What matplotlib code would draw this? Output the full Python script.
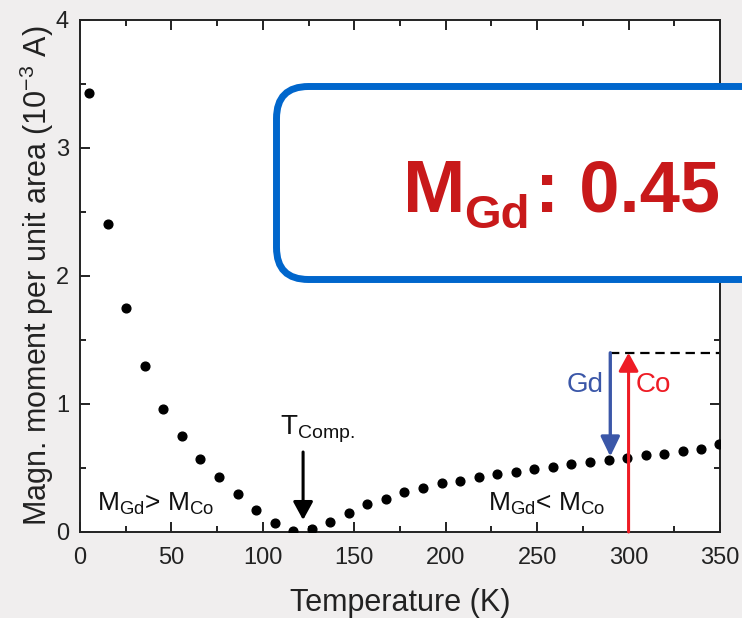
import matplotlib
matplotlib.use("Agg")
import matplotlib.pyplot as plt
from matplotlib.patches import FancyBboxPatch, FancyArrowPatch
from matplotlib.transforms import IdentityTransform
from matplotlib.ticker import MultipleLocator

plt.rcParams['font.family'] = ['Liberation Sans', 'DejaVu Sans']
plt.rcParams['mathtext.fontset'] = 'custom'
plt.rcParams['mathtext.rm'] = 'Liberation Sans'
plt.rcParams['mathtext.it'] = 'Liberation Sans:italic'
plt.rcParams['mathtext.bf'] = 'Liberation Sans:bold'

# ---- data ----
temperature = [4.9, 15.3, 25.2, 35.5, 45.4, 55.8, 65.6, 76.0, 86.4, 96.2,
               106.6, 116.5, 126.8, 136.7, 147.1, 156.9, 167.3, 177.1, 187.5, 197.9,
               207.8, 218.2, 228.0, 238.4, 248.2, 258.6, 268.5, 278.8, 289.2, 299.1,
               309.5, 319.3, 329.7, 339.5, 349.4]
moment = [3.43, 2.41, 1.75, 1.30, 0.96, 0.75, 0.57, 0.43, 0.30, 0.17,
          0.07, 0.01, 0.02, 0.08, 0.15, 0.22, 0.26, 0.31, 0.34, 0.38,
          0.40, 0.43, 0.45, 0.47, 0.49, 0.51, 0.53, 0.55, 0.56, 0.58,
          0.60, 0.61, 0.63, 0.65, 0.69]
x_ticks = [0, 50, 100, 150, 200, 250, 300, 350]
y_ticks = [0, 1, 2, 3, 4]
t_comp = 122          # K, compensation temperature arrow
gd_x, gd_top, gd_bottom = 290, 1.40, 0.59
co_x, co_bottom, co_top = 300, 0.0, 1.40
box_label_value = "0.45"

W, H = 742, 618
fig = plt.figure(figsize=(W / 100, H / 100), dpi=100, facecolor='#f0eeee')
ax = fig.add_axes([80 / W, 1 - 532 / H, 640 / W, 512 / H])
ax.set_facecolor('white')

ax.plot(temperature, moment, 'o', color='black', ms=6.3, zorder=3)

ax.set_xlim(0, 350)
ax.set_ylim(0, 4)
ax.set_xticks(x_ticks)
ax.set_yticks(y_ticks)
ax.xaxis.set_minor_locator(MultipleLocator(25))
ax.yaxis.set_minor_locator(MultipleLocator(0.5))
ax.tick_params(which='both', direction='in', top=True, right=True, width=1.4, color='#222222')
ax.tick_params(which='major', length=7)
ax.tick_params(which='minor', length=4.3)
ax.tick_params(axis='x', which='major', labelsize=17, pad=11, labelcolor='#222222')
ax.tick_params(axis='y', which='major', labelsize=17, pad=8, labelcolor='#222222')
for s in ax.spines.values():
    s.set_linewidth(1.4)
    s.set_color('#222222')

ax.set_xlabel('Temperature (K)', fontsize=22, color='#222222', labelpad=13.5)
ax.set_ylabel('Magn. moment per unit area (10$^{-3}$ A)', fontsize=22, color='#222222', labelpad=0)

# dashed reference line
ax.plot([gd_x, 350], [gd_top, gd_top], color='black', lw=1.6, dashes=(4.2, 2.6), zorder=2)

# Gd arrow (blue, down)
ax.add_patch(FancyArrowPatch((gd_x, gd_top), (gd_x, gd_bottom),
                             arrowstyle='-|>,head_length=1.2,head_width=0.58',
                             mutation_scale=10, color='#3b57a8', lw=2.4,
                             shrinkA=0, shrinkB=0, zorder=4))
# Co arrow (red, up)
ax.add_patch(FancyArrowPatch((co_x, co_bottom), (co_x, co_top),
                             arrowstyle='-|>,head_length=1.1,head_width=0.6',
                             mutation_scale=10, color='#ee1c25', lw=2.2,
                             shrinkA=0, shrinkB=0, zorder=4, clip_on=False))
# T_comp arrow
ax.add_patch(FancyArrowPatch((t_comp, 0.625), (t_comp, 0.094),
                             arrowstyle='-|>,head_length=1.1,head_width=0.6',
                             mutation_scale=10, color='black', lw=2.2,
                             shrinkA=0, shrinkB=0, zorder=4))

ax.text(286.5, 1.09, 'Gd', color='#3b57a8', fontsize=20, ha='right', va='baseline')
ax.text(304, 1.09, 'Co', color='#ee1c25', fontsize=20, ha='left', va='baseline')
ax.text(109.3, 0.76, r'T$_{\mathrm{Comp.}}$', color='#111111', fontsize=20, ha='left', va='baseline')
ax.text(9.3, 0.164, r'M$_{\mathrm{Gd}}$> M$_{\mathrm{Co}}$', color='#111111', fontsize=19,
        ha='left', va='baseline')
ax.text(223, 0.164, r'M$_{\mathrm{Gd}}$< M$_{\mathrm{Co}}$', color='#111111', fontsize=19,
        ha='left', va='baseline')

# Blue rounded box overlay (in pixel coordinates)
box = FancyBboxPatch((276.5, H - 279.5), 560, 193,
                     boxstyle='round,pad=0,rounding_size=32',
                     transform=IdentityTransform(), facecolor='white',
                     edgecolor='#0066cc', linewidth=5, zorder=5)
fig.add_artist(box)
red = '#c8191a'
fig.text(403 / W, 1 - 212 / H, 'M', color=red, fontsize=54, fontweight='bold',
         ha='left', va='baseline', zorder=6)
fig.text(464 / W, 1 - 228 / H, 'Gd', color=red, fontsize=34, fontweight='bold',
         ha='left', va='baseline', zorder=6)
fig.text(535 / W, 1 - 212 / H, ': ' + box_label_value, color=red, fontsize=52, fontweight='bold',
         ha='left', va='baseline', zorder=6)

fig.savefig('out.png', dpi=100, facecolor=fig.get_facecolor())
